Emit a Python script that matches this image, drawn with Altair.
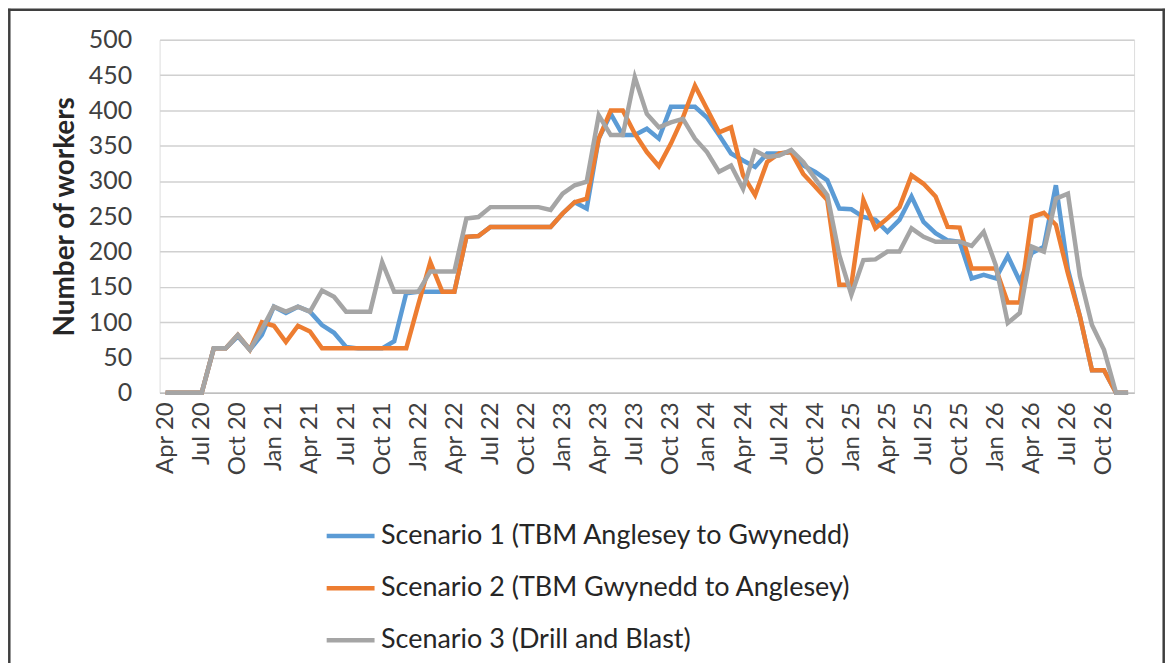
import altair as alt
import pandas as pd

months = pd.date_range("2020-04-01", "2026-12-01", freq="MS").strftime("%b %y").tolist()
tick_labels = months[::3]

scenario_names = [
    "Scenario 1 (TBM Anglesey to Gwynedd)",
    "Scenario 2 (TBM Gwynedd to Anglesey)",
    "Scenario 3 (Drill and Blast)",
]
scenario_colors = ["#5B9BD5", "#ED7D31", "#A5A5A5"]
scenario_widths = [4.5, 4.5, 2.6]

s1 = [0, 0, 0, 0, 63, 63, 80, 61, 82, 122,
      113, 122, 115, 96, 85, 65, 63, 63, 63, 73,
      141, 143, 143, 143, 143, 221, 222, 235, 235, 235,
      235, 235, 235, 254, 270, 261, 360, 395, 365, 365,
      374, 360, 405, 405, 405, 390, 365, 339, 329, 320,
      339, 339, 341, 322, 313, 301, 261, 260, 249, 245,
      228, 245, 278, 242, 226, 216, 214, 162, 167, 162,
      194, 158, 198, 207, 294, 175, 108, 32, 32, 0,
      0]
s2 = [0, 0, 0, 0, 63, 63, 82, 61, 100, 95,
      72, 95, 87, 63, 63, 63, 63, 63, 63, 63,
      63, 125, 185, 143, 143, 221, 222, 235, 235, 235,
      235, 235, 235, 254, 270, 275, 360, 400, 400, 367,
      341, 321, 353, 390, 435, 402, 369, 376, 308, 280,
      327, 339, 341, 310, 292, 273, 153, 153, 273, 233,
      247, 263, 308, 296, 278, 235, 234, 176, 176, 176,
      128, 128, 249, 255, 238, 169, 108, 32, 32, 0,
      0]
s3 = [0, 0, 0, 0, 63, 63, 82, 61, 90, 122,
      115, 122, 115, 145, 136, 115, 115, 115, 185, 143,
      143, 143, 172, 172, 172, 247, 249, 263, 263, 263,
      263, 263, 259, 282, 294, 299, 393, 365, 365, 447,
      395, 376, 383, 388, 360, 341, 313, 322, 289, 343,
      334, 336, 344, 327, 303, 280, 195, 139, 188, 189,
      200, 200, 233, 221, 214, 214, 214, 208, 228, 181,
      99, 113, 207, 200, 275, 282, 165, 96, 61, 0,
      0]

rows = []
for name, vals in zip(scenario_names, [s1, s2, s3]):
    for m, v in zip(months, vals):
        rows.append({"month": m, "workers": v, "scenario": name})
df = pd.DataFrame(rows)

FONT = "Lato"
TXT = "#404040"

legend_cfg = alt.Legend(
    title=None,
    orient="none",
    legendX=165,
    legendY=471,
    direction="vertical",
    symbolType="stroke",
    symbolSize=2304,
    symbolStrokeWidth=alt.ExprRef(
        expr="datum.value == '" + scenario_names[2] + "' ? 2.6 : 4.5"
    ),
    labelFont=FONT,
    labelFontSize=27,
    labelColor="#262626",
    labelOffset=4,
    rowPadding=12.3,
    labelLimit=800,
)

lines = alt.Chart(df).mark_line().encode(
    x=alt.X(
        "month:N",
        sort=months,
        scale=alt.Scale(type="point", padding=0.5),
        axis=alt.Axis(
            values=tick_labels,
            title=None,
            labelAngle=270,
            labelFont=FONT,
            labelFontSize=24,
            labelColor=TXT,
            labelPadding=9,
            ticks=False,
            grid=False,
            domainColor="#bfbfbf",
            domainWidth=1.5,
        ),
    ),
    y=alt.Y(
        "workers:Q",
        scale=alt.Scale(domain=[0, 500], nice=False),
        axis=alt.Axis(
            values=list(range(0, 501, 50)),
            title="Number of workers",
            titleFont=FONT,
            titleFontSize=28,
            titleFontWeight="bold",
            titleColor="#262626",
            titlePadding=9,
            labelFont=FONT,
            labelFontSize=25,
            labelColor=TXT,
            labelPadding=28,
            ticks=False,
            domain=False,
            gridColor="#d0d0d0",
            gridWidth=1.5,
        ),
    ),
    color=alt.Color(
        "scenario:N",
        scale=alt.Scale(domain=scenario_names, range=scenario_colors),
        legend=legend_cfg,
    ),
    strokeWidth=alt.StrokeWidth(
        "scenario:N",
        scale=alt.Scale(domain=scenario_names, range=scenario_widths),
        legend=None,
    ),
)

frame_df = pd.DataFrame({"k": [0]})
frame_style = dict(color="#3f3f3f", strokeWidth=2.5)
left_edge = alt.Chart(frame_df).mark_rule(**frame_style).encode(
    x=alt.value(-150.7), y=alt.value(-31), y2=alt.value(700)
)
right_edge = alt.Chart(frame_df).mark_rule(**frame_style).encode(
    x=alt.value(1006.7), y=alt.value(-31), y2=alt.value(700)
)
top_edge = alt.Chart(frame_df).mark_rule(**frame_style).encode(
    x=alt.value(-152), x2=alt.value(1008), y=alt.value(-30)
)

chart = alt.layer(lines, left_edge, right_edge, top_edge).properties(
    width=977,
    height=354,
    autosize=alt.AutoSizeParams(type="none"),
    padding={"left": 152, "top": 31, "right": 31, "bottom": 270},
).configure_view(stroke=None).configure(background="white")

chart.save("out.html", embed_options={"renderer": "svg", "actions": False})
